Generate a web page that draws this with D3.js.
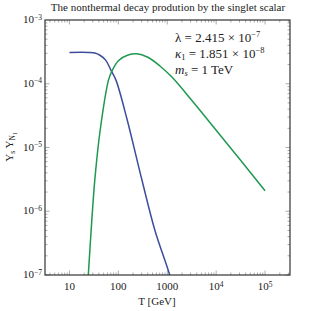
<!DOCTYPE html>
<html>
<head>
<meta charset="utf-8">
<script src="https://cdn.jsdelivr.net/npm/d3@7"></script>
<style>
  body { margin: 0; background: #fff; }
  svg text { font-family: "Liberation Serif", "DejaVu Serif", serif; fill: #222; }
</style>
</head>
<body>
<svg id="chart" width="311" height="311"></svg>
<script>
// blue curve: Y_s (T in GeV)
const blueT = [10, 25, 33, 42, 55, 70, 89, 150, 300, 560, 1120, 1300];
const blueY = [3.1e-4, 3.1e-4, 3.03e-4, 2.8e-4, 2.35e-4, 1.65e-4, 1.15e-4, 2.8e-5, 3.2e-6, 5.0e-7, 1.0e-7, 6e-8];

// green curve: Y_N1
const greenT = [23, 24.3, 26.4, 33, 42.6, 63, 73, 100, 158, 236, 400, 708, 1259, 3162, 10000, 31623, 100000];
const greenY = [5e-8, 1e-7, 2.75e-7, 3.1e-6, 1.9e-5, 1.15e-4, 1.55e-4, 2.3e-4, 2.82e-4, 2.95e-4, 2.6e-4, 1.9e-4, 1.26e-4, 5.5e-5, 1.86e-5, 6.3e-6, 2.1e-6];

const xTicks = [10, 100, 1000, 1e4, 1e5];
const xTickLabels = ["10", "100", "1000", "10^4", "10^5"];
const yTicks = [1e-3, 1e-4, 1e-5, 1e-6, 1e-7];
const yTickLabels = ["10^-3", "10^-4", "10^-5", "10^-6", "10^-7"];

const margin = {top: 20, right: 21, bottom: 36, left: 45};
const width = 311, height = 311;

const svg = d3.select('#chart');

const x = d3.scaleLog([Math.pow(10, 0.5), Math.pow(10, 5.51)], [margin.left, width - margin.right]);
const y = d3.scaleLog([1e-7, 1e-3], [height - margin.bottom, margin.top]);

// clip the curves to the frame
svg.append('clipPath').attr('id', 'clip')
    .append('rect')
    .attr('x', margin.left).attr('y', margin.top)
    .attr('width', width - margin.left - margin.right)
    .attr('height', height - margin.top - margin.bottom);

// write "a^b" as base with superscript tspan
function powText(sel, s) {
    const parts = s.split('^');
    sel.text(parts[0]);
    if (parts.length > 1) {
        sel.append('tspan')
            .attr('dy', '-0.45em')
            .style('font-size', '7.5px')
            .text(parts[1].replace('-', '\u2212'));
    }
}

// minor tick values
const minorX = [];
for (let e = 0; e <= 5; e++) for (let m = 1; m <= 9; m++) {
    const v = m * Math.pow(10, e);
    if (v >= x.domain()[0] && v <= x.domain()[1]) minorX.push(v);
}
const minorY = [];
for (let e = -7; e <= -4; e++) for (let m = 1; m <= 9; m++) minorY.push(m * Math.pow(10, e));

const tickColor = '#888';
const ticks = svg.append('g').attr('stroke', tickColor).attr('stroke-width', 0.7);
const x0 = margin.left, x1 = width - margin.right;
const y0 = height - margin.bottom, y1 = margin.top;

minorX.forEach(v => {
    const major = xTicks.includes(v);
    const len = major ? 4.5 : 2.5;
    ticks.append('line').attr('x1', x(v)).attr('x2', x(v)).attr('y1', y0).attr('y2', y0 - len);
    ticks.append('line').attr('x1', x(v)).attr('x2', x(v)).attr('y1', y1).attr('y2', y1 + len);
});
minorY.forEach(v => {
    const major = yTicks.some(t => Math.abs(t - v) / t < 1e-9);
    const len = major ? 4.5 : 2.5;
    ticks.append('line').attr('y1', y(v)).attr('y2', y(v)).attr('x1', x0).attr('x2', x0 + len);
    ticks.append('line').attr('y1', y(v)).attr('y2', y(v)).attr('x1', x1).attr('x2', x1 - len);
});

// curves
const line = d3.line()
    .x(d => x(d[0]))
    .y(d => y(d[1]))
    .curve(d3.curveCatmullRom.alpha(0.5));

const plot = svg.append('g').attr('clip-path', 'url(#clip)');
plot.append('path')
    .datum(d3.zip(blueT, blueY))
    .attr('fill', 'none')
    .attr('stroke', '#3c4d9c')
    .attr('stroke-width', 1.5)
    .attr('d', line);
plot.append('path')
    .datum(d3.zip(greenT, greenY))
    .attr('fill', 'none')
    .attr('stroke', '#1f9850')
    .attr('stroke-width', 1.5)
    .attr('d', line);

// frame
svg.append('rect')
    .attr('x', x0).attr('y', y1)
    .attr('width', x1 - x0).attr('height', y0 - y1)
    .attr('fill', 'none')
    .attr('stroke', '#333')
    .attr('stroke-width', 1.2);

// tick labels
svg.append('g').selectAll('text')
    .data(xTicks)
    .join('text')
    .attr('x', d => x(d))
    .attr('y', y0 + 15)
    .attr('text-anchor', 'middle')
    .style('font-size', '11px')
    .each(function(d, i) { powText(d3.select(this), xTickLabels[i]); });

svg.append('g').selectAll('text')
    .data(yTicks)
    .join('text')
    .attr('x', x0 - 3)
    .attr('y', d => y(d) + 3)
    .attr('text-anchor', 'end')
    .style('font-size', '11px')
    .each(function(d, i) { powText(d3.select(this), yTickLabels[i]); });

// title
svg.append('text')
    .attr('x', 168).attr('y', 11)
    .attr('text-anchor', 'middle')
    .style('font-size', '11px')
    .text('The nonthermal decay prodution by the singlet scalar');

// axis labels
svg.append('text')
    .attr('x', 157).attr('y', 305)
    .attr('text-anchor', 'middle')
    .style('font-size', '11px')
    .text('T [GeV]');

const yl = svg.append('text')
    .attr('transform', 'translate(13,147) rotate(-90)')
    .attr('text-anchor', 'middle')
    .style('font-size', '11px');
yl.append('tspan').text('Y');
yl.append('tspan').attr('dy', '2').style('font-size', '7.5px').text('s');
yl.append('tspan').attr('dy', '-2').text(' Y');
yl.append('tspan').attr('dy', '2').style('font-size', '7.5px').text('N');
yl.append('tspan').attr('dy', '1.5').style('font-size', '5.5px').text('1');

// parameter box
const ann = svg.append('g').style('font-size', '13px');
const l1 = ann.append('text').attr('x', 175).attr('y', 42);
l1.append('tspan').text('\u03bb = 2.415 \u00d7 10');
l1.append('tspan').attr('dy', '-5').style('font-size', '8.5px').text('\u22127');

const l2 = ann.append('text').attr('x', 175).attr('y', 58);
l2.append('tspan').style('font-style', 'italic').text('\u03ba');
l2.append('tspan').attr('dy', '2').style('font-size', '8.5px').text('1');
l2.append('tspan').attr('dy', '-2').text(' = 1.851 \u00d7 10');
l2.append('tspan').attr('dy', '-5').style('font-size', '8.5px').text('\u22128');

const l3 = ann.append('text').attr('x', 175).attr('y', 74);
l3.append('tspan').style('font-style', 'italic').text('m');
l3.append('tspan').attr('dy', '2').style('font-size', '8.5px').style('font-style', 'italic').text('s');
l3.append('tspan').attr('dy', '-2').text(' = 1 TeV');
</script>
</body>
</html>
